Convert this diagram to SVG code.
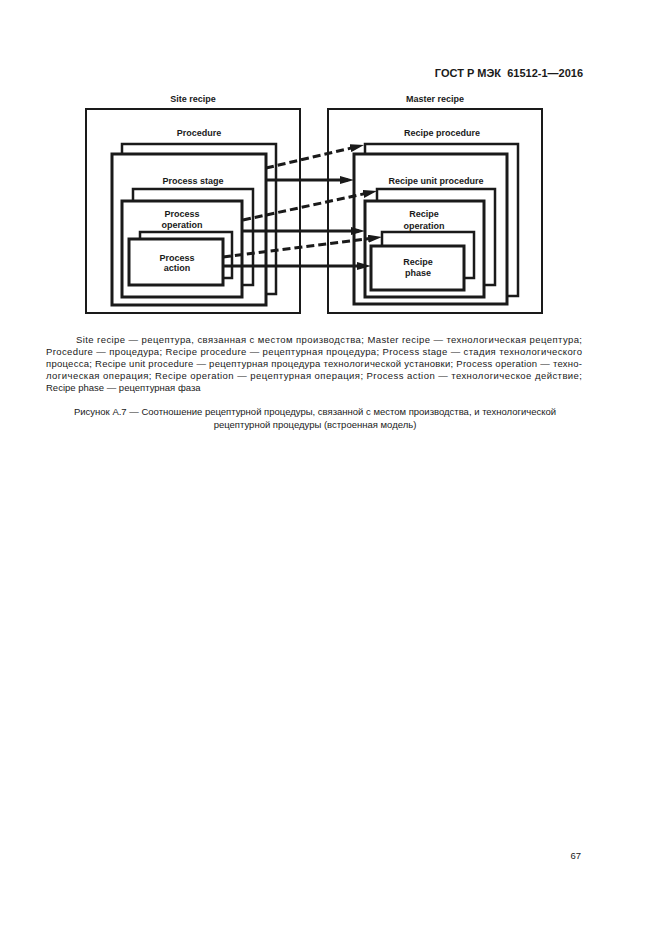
<svg xmlns="http://www.w3.org/2000/svg" width="661" height="936" viewBox="0 0 661 936">
<defs>
<style>
.bg{fill:#ffffff}
.outer{fill:#ffffff;stroke:#1a1a1a;stroke-width:2}
.back{fill:#ffffff;stroke:#1a1a1a;stroke-width:2.5}
.front{fill:#ffffff;stroke:#1a1a1a;stroke-width:3}
.lbl{font-family:"Liberation Sans",Arial,sans-serif;font-size:9px;font-weight:bold;fill:#1a1a1a;text-anchor:middle}
.cap{font-family:"Liberation Sans",Arial,sans-serif;font-size:9.5px;fill:#1a1a1a}
.hdr{font-family:"Liberation Sans",Arial,sans-serif;font-size:11px;font-weight:bold;fill:#1a1a1a;white-space:pre}
.solid{fill:none;stroke:#1a1a1a;stroke-width:3}
.dash{fill:none;stroke:#1a1a1a;stroke-width:3;stroke-dasharray:8 4}
</style>
<marker id="ah" markerUnits="userSpaceOnUse" markerWidth="14" markerHeight="8" refX="8" refY="4" orient="auto">
<path d="M0,0 L14,4 L0,8 z" fill="#1a1a1a"/>
</marker>
</defs>
<rect class="bg" x="0" y="0" width="661" height="936"/>
<text class="hdr" x="583" y="77" text-anchor="end" xml:space="preserve">ГОСТ Р МЭК  61512-1—2016</text>

<g id="site-recipe">
<rect class="outer" x="86" y="109" width="214" height="204"/>
<text class="lbl" x="193" y="102">Site recipe</text>
</g>
<g id="procedure">
<rect class="back" x="122" y="144" width="154" height="150"/>
<rect class="front" x="112" y="154" width="154" height="151"/>
<text class="lbl" x="199" y="136">Procedure</text>
</g>
<g id="process-stage">
<rect class="back" x="133" y="189" width="120" height="96"/>
<rect class="front" x="122" y="201" width="120" height="96"/>
<text class="lbl" x="193" y="184">Process stage</text>
</g>
<g id="process-operation">
<rect class="back" x="140" y="232" width="92" height="46"/>
<text class="lbl" x="182" y="217">Process</text>
<text class="lbl" x="182" y="228">operation</text>
</g>
<g id="process-action">
<rect class="front" x="129" y="239" width="94" height="46"/>
<text class="lbl" x="177" y="261">Process</text>
<text class="lbl" x="177" y="271">action</text>
</g>

<g id="master-recipe">
<rect class="outer" x="328" y="109" width="214" height="204"/>
<text class="lbl" x="435" y="102">Master recipe</text>
</g>
<g id="recipe-procedure">
<rect class="back" x="365" y="144" width="153" height="152"/>
<rect class="front" x="354" y="154" width="153" height="150"/>
<text class="lbl" x="442" y="136">Recipe procedure</text>
</g>
<g id="recipe-unit-procedure">
<rect class="back" x="377" y="189" width="118" height="96"/>
<rect class="front" x="365" y="201" width="119" height="96"/>
<text class="lbl" x="436" y="184">Recipe unit procedure</text>
</g>
<g id="recipe-operation">
<rect class="back" x="382" y="232" width="92" height="46"/>
<text class="lbl" x="424" y="217">Recipe</text>
<text class="lbl" x="424" y="229">operation</text>
</g>
<g id="recipe-phase">
<rect class="front" x="371" y="246" width="93" height="44"/>
<text class="lbl" x="418" y="265">Recipe</text>
<text class="lbl" x="418" y="276">phase</text>
</g>

<g id="connectors">
<line class="dash" x1="266" y1="168" x2="358.2" y2="146.4" marker-end="url(#ah)"/>
<line class="solid" x1="266" y1="180" x2="348" y2="180" marker-end="url(#ah)"/>
<line class="dash" x1="243" y1="220" x2="371.1" y2="192.3" marker-end="url(#ah)"/>
<line class="solid" x1="242" y1="231" x2="359" y2="231" marker-end="url(#ah)"/>
<line class="dash" x1="223" y1="257" x2="376" y2="237.75" marker-end="url(#ah)"/>
<line class="solid" x1="223" y1="266" x2="365" y2="266" marker-end="url(#ah)"/>
</g>

<text class="cap" x="76" y="343" textLength="506" lengthAdjust="spacing">Site recipe — рецептура, связанная с местом производства; Master recipe — технологическая рецептура;</text>
<text class="cap" x="46" y="355" textLength="536" lengthAdjust="spacing">Procedure — процедура; Recipe procedure — рецептурная процедура; Process stage — стадия технологического</text>
<text class="cap" x="46" y="367" textLength="536" lengthAdjust="spacing">процесса; Recipe unit procedure — рецептурная процедура технологической установки; Process operation — техно-</text>
<text class="cap" x="46" y="379" textLength="536" lengthAdjust="spacing">логическая операция; Recipe operation — рецептурная операция; Process action — технологическое действие;</text>
<text class="cap" x="46" y="391">Recipe phase — рецептурная фаза</text>
<text class="cap" x="315" y="415" text-anchor="middle">Рисунок А.7 — Соотношение рецептурной процедуры, связанной с местом производства, и технологической</text>
<text class="cap" x="315" y="428" text-anchor="middle">рецептурной процедуры (встроенная модель)</text>
<text class="cap" x="581" y="859" text-anchor="end" font-size="10">67</text>
</svg>
